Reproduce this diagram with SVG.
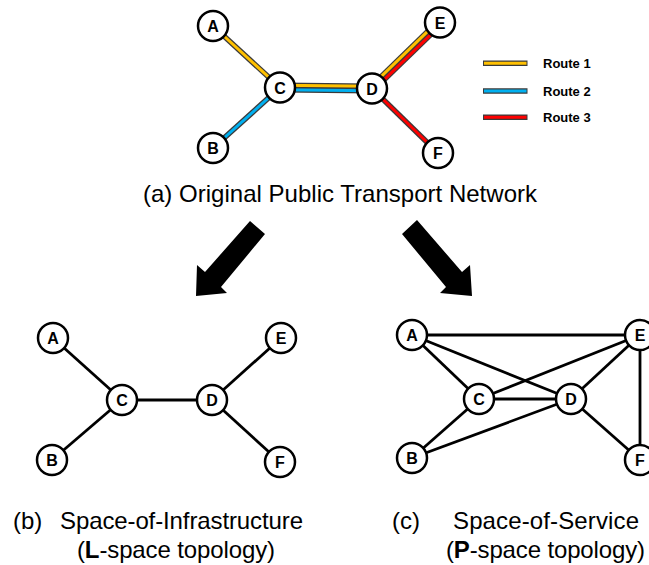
<svg xmlns="http://www.w3.org/2000/svg" width="649" height="565" viewBox="0 0 649 565">
<style>
.bg{fill:#fff}
.node circle{fill:#fff;stroke:#000;stroke-width:2.5}
.node text{font-family:"Liberation Sans",Arial,sans-serif;font-weight:bold;font-size:16px;text-anchor:middle;fill:#000}
.out{stroke:#3a3a3a;stroke-width:5.5;fill:none}
.y{stroke:#FFC000;stroke-width:3;fill:none}
.b{stroke:#00B0F0;stroke-width:3;fill:none}
.r{stroke:#FF0000;stroke-width:3;fill:none}
.e{stroke:#000;stroke-width:2.8;fill:none}
.lab{font-family:"Liberation Sans",Arial,sans-serif;font-size:24px;fill:#000}
.leg{font-family:"Liberation Sans",Arial,sans-serif;font-size:13px;font-weight:bold;fill:#000}
</style>
<rect class="bg" x="0" y="0" width="649" height="565"/>

<!-- (a) original network -->
<g id="connectors-a">
  <line class="out" x1="213" y1="26" x2="280" y2="87.5"/>
  <line class="out" x1="213" y1="148" x2="280" y2="87.5"/>
  <line class="out" x1="280" y1="85.3" x2="372" y2="86.3"/>
  <line class="out" x1="280" y1="89.7" x2="372" y2="90.7"/>
  <line class="out" x1="370.5" y1="86.9" x2="438.5" y2="20.9"/>
  <line class="out" x1="373.5" y1="90.1" x2="441.5" y2="24.1"/>
  <line class="out" x1="372" y1="88.5" x2="438" y2="153"/>
  <line class="y" x1="213" y1="26" x2="280" y2="87.5"/>
  <line class="b" x1="213" y1="148" x2="280" y2="87.5"/>
  <line class="y" x1="280" y1="85.3" x2="372" y2="86.3"/>
  <line class="b" x1="280" y1="89.7" x2="372" y2="90.7"/>
  <line class="y" x1="370.5" y1="86.9" x2="438.5" y2="20.9"/>
  <line class="r" x1="373.5" y1="90.1" x2="441.5" y2="24.1"/>
  <line class="r" x1="372" y1="88.5" x2="438" y2="153"/>
</g>
<g id="a-A" class="node"><circle cx="213" cy="26" r="15"/><text x="213" y="32">A</text></g>
<g id="a-B" class="node"><circle cx="213" cy="148" r="15"/><text x="213" y="154">B</text></g>
<g id="a-C" class="node"><circle cx="280" cy="87.5" r="15"/><text x="280" y="93.5">C</text></g>
<g id="a-D" class="node"><circle cx="372" cy="88.5" r="15"/><text x="372" y="94.5">D</text></g>
<g id="a-E" class="node"><circle cx="440" cy="22.5" r="15"/><text x="440" y="28.5">E</text></g>
<g id="a-F" class="node"><circle cx="438" cy="153" r="15"/><text x="438" y="159">F</text></g>

<g id="legend">
  <line class="out" x1="483" y1="63.3" x2="527.5" y2="63.3" stroke-linecap="butt"/>
  <line class="y" x1="484" y1="63.3" x2="526.5" y2="63.3"/>
  <line class="out" x1="483" y1="91" x2="527.5" y2="91"/>
  <line class="b" x1="484" y1="91" x2="526.5" y2="91"/>
  <line class="out" x1="483" y1="117.3" x2="527.5" y2="117.3"/>
  <line class="r" x1="484" y1="117.3" x2="526.5" y2="117.3"/>
  <text class="leg" x="543" y="68">Route 1</text>
  <text class="leg" x="543" y="96">Route 2</text>
  <text class="leg" x="543" y="122">Route 3</text>
</g>

<text class="lab" x="143" y="202" textLength="394">(a) Original Public Transport Network</text>

<!-- big arrows -->
<g id="arrows">
  <polygon points="250,221 265,234 221,287 227,293 196,296 197,265 205,272" fill="#000"/>
  <polygon points="417,220 402,234 446,287 440,293 472,296 470,265 462,272" fill="#000"/>
</g>

<!-- (b) L-space -->
<g id="connectors-b">
  <line class="e" x1="53" y1="338" x2="122" y2="400"/>
  <line class="e" x1="52" y1="460" x2="122" y2="400"/>
  <line class="e" x1="122" y1="400" x2="212" y2="400"/>
  <line class="e" x1="212" y1="400" x2="281" y2="338"/>
  <line class="e" x1="212" y1="400" x2="280" y2="462"/>
</g>
<g id="b-A" class="node"><circle cx="53" cy="338" r="15"/><text x="53" y="344">A</text></g>
<g id="b-B" class="node"><circle cx="52" cy="460" r="15"/><text x="52" y="466">B</text></g>
<g id="b-C" class="node"><circle cx="122" cy="400" r="15"/><text x="122" y="406">C</text></g>
<g id="b-D" class="node"><circle cx="212" cy="400" r="15"/><text x="212" y="406">D</text></g>
<g id="b-E" class="node"><circle cx="281" cy="338" r="15"/><text x="281" y="344">E</text></g>
<g id="b-F" class="node"><circle cx="280" cy="462" r="15"/><text x="280" y="468">F</text></g>

<!-- (c) P-space -->
<g id="connectors-c">
  <line class="e" x1="412" y1="335" x2="640" y2="335"/>
  <line class="e" x1="412" y1="335" x2="479" y2="399"/>
  <line class="e" x1="412" y1="335" x2="571" y2="399"/>
  <line class="e" x1="479" y1="399" x2="640" y2="335"/>
  <line class="e" x1="479" y1="399" x2="571" y2="399"/>
  <line class="e" x1="571" y1="399" x2="640" y2="335"/>
  <line class="e" x1="412" y1="458" x2="479" y2="399"/>
  <line class="e" x1="412" y1="458" x2="571" y2="399"/>
  <line class="e" x1="571" y1="399" x2="640" y2="460"/>
  <line class="e" x1="640" y1="335" x2="640" y2="460"/>
</g>
<g id="c-A" class="node"><circle cx="412" cy="335" r="15"/><text x="412" y="341">A</text></g>
<g id="c-B" class="node"><circle cx="412" cy="458" r="15"/><text x="412" y="464">B</text></g>
<g id="c-C" class="node"><circle cx="479" cy="399" r="15"/><text x="479" y="405">C</text></g>
<g id="c-D" class="node"><circle cx="571" cy="399" r="15"/><text x="571" y="405">D</text></g>
<g id="c-E" class="node"><circle cx="640" cy="335" r="15"/><text x="640" y="341">E</text></g>
<g id="c-F" class="node"><circle cx="640" cy="460" r="15"/><text x="640" y="466">F</text></g>

<!-- captions -->
<text class="lab" x="13" y="529">(b)</text>
<text class="lab" x="60" y="529" textLength="243">Space-of-Infrastructure</text>
<text class="lab" x="77" y="558" textLength="198">(<tspan font-weight="bold">L</tspan>-space topology)</text>
<text class="lab" x="392" y="529">(c)</text>
<text class="lab" x="453" y="529" textLength="186">Space-of-Service</text>
<text class="lab" x="446" y="558" textLength="199">(<tspan font-weight="bold">P</tspan>-space topology)</text>
</svg>
